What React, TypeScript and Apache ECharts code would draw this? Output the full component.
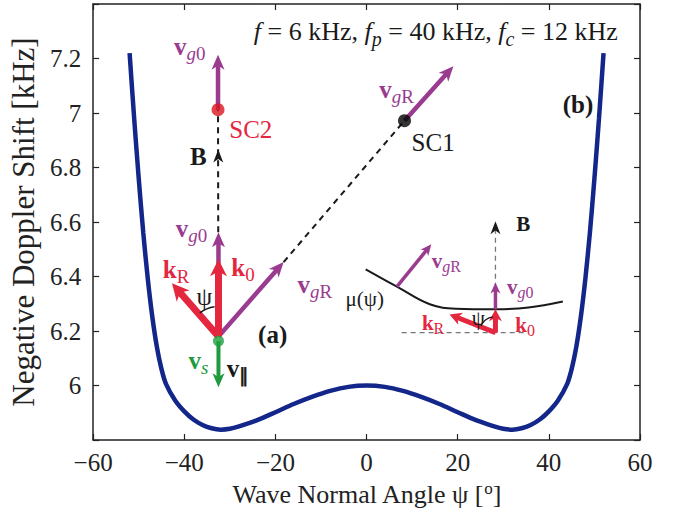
import React, { useEffect, useRef } from 'react';
import * as echarts from 'echarts';

const FAM = "'Liberation Serif', 'Times New Roman', serif";

// Doppler-shift curve (wave normal angle in degrees, negative Doppler shift in kHz)
const psiDeg = [-52, -51, -50, -49, -48, -47, -46, -45, -44, -42, -40, -38, -36, -34, -32, -30, -28, -24, -20, -16, -12, -8, -4, 0,
  4, 8, 12, 16, 20, 24, 28, 30, 32, 34, 36, 38, 40, 42, 44, 45, 46, 47, 48, 49, 50, 51, 52];
const dopplerKHz = [7.22, 6.98, 6.76, 6.56, 6.39, 6.25, 6.14, 6.06, 6.005, 5.945, 5.905, 5.875, 5.855, 5.843, 5.838, 5.841, 5.85, 5.873, 5.902, 5.932, 5.958, 5.98, 5.995, 6.0,
  5.995, 5.98, 5.958, 5.932, 5.902, 5.873, 5.85, 5.841, 5.838, 5.843, 5.855, 5.875, 5.905, 5.945, 6.005, 6.06, 6.14, 6.25, 6.39, 6.56, 6.76, 6.98, 7.22];

// inset refractive-index surface mu(psi), drawn in data units
const muPsi = [-0.2, 6.66, 13.88, 19.63, 28.28, 35.5, 43.07];
const muVal = [6.426, 6.363, 6.298, 6.282, 6.28, 6.286, 6.308];

// axes
const xMin = -60, xMax = 60, xStep = 20;
const yMin = 5.8, yMax = 7.4, yStep = 0.2;

// arrows: [fromPsi, fromVal, toPsi, toVal]
const purpleArrowsMain = [[-32.5, 6.18, -32.5, 6.562], [-32.5, 6.18, -18.2, 6.453], [-32.6, 7.012, -32.6, 7.214], [8.32, 6.972, 19.05, 7.172]];
const redArrowsMain = [[-32.5, 6.18, -32.5, 6.463], [-32.5, 6.18, -42.7, 6.375]];
const greenArrows = [[-32.5, 6.163, -32.5, 5.994]];
const purpleArrowsInset = [[6.66, 6.363, 14.2, 6.518], [28.28, 6.28, 28.28, 6.378]];
const redArrowsInset = [[28.28, 6.194, 28.28, 6.28], [28.28, 6.194, 18.2, 6.261]];
const blackDashed = [[-18.2, 6.453, 8.32, 6.972], [-32.55, 6.562, -32.6, 7.012]];
const grayDashed = [[28.28, 6.194, 28.28, 6.59], [7.7, 6.194, 35.1, 6.194]];
const bFieldHeads = [[-32.55, 6.8, -32.55, 6.866], [28.28, 6.55, 28.28, 6.603]];
// angle marks: [basePsi, baseVal, aPsi, aVal, bPsi, bVal]
const angleMain = [[-32.5, 6.18, -42.7, 6.375, -32.5, 6.463]];
const angleInset = [[28.28, 6.194, 18.2, 6.261, 28.28, 6.28]];
// spacecraft / observer points
const sc2Point = [[-32.6, 7.012]];
const sc1Point = [[8.32, 6.972]];
const observerPoint = [[-32.5, 6.163]];

// text labels (centre in data units) and their texts
const labelAt = [
  [-38.8, 7.243], [-25.4, 6.939], [-36.9, 6.84], [-38.4, 6.577], [-41.8, 6.426], [-27.1, 6.434],
  [-35.6, 6.327], [-11.35, 6.371], [-20.6, 6.188], [-36.9, 6.09], [-28.2, 6.064], [6.6, 7.086],
  [14.6, 6.89], [46.4, 7.03], [15.2, 7.298], [17.5, 6.457], [-0.4, 6.316], [34.4, 6.591],
  [33.7, 6.363], [34.8, 6.221], [14.6, 6.229], [24.5, 6.249],
];
const labelText = [
  '{pb|v}{psi|g}{ps|0}', '{rn|SC2}', '{kb|B}', '{pb|v}{psi|g}{ps|0}', '{rb|k}{rs|R}', '{rb|k}{rs|0}',
  '{kn|ψ}', '{pb|v}{psi|g}{ps|R}', '{kb|(a)}', '{gb|v}{gsi|s}', '{kb|v}{ksb|∥}', '{pb|v}{psi|g}{ps|R}',
  '{kn|SC1}', '{kb|(b)}', '{kit|f}{knt| = 6 kHz, }{kit|f}{ksit|p}{knt| = 40 kHz, }{kit|f}{ksit|c}{knt| = 12 kHz}',
  '{pb2|v}{psi2|g}{ps2|R}', '{kn2|μ(ψ)}', '{kb2|B}', '{pb2|v}{psi2|g}{ps2|0}', '{rb2|k}{rs2|0}', '{rb2|k}{rs2|R}', '{kn2|ψ}',
];

const COLORS: Record<string, string> = { p: '#9a3b90', r: '#e4263e', g: '#1f9a3c', k: '#1a1a1a' };

function buildRich() {
  const rich: Record<string, any> = {};
  const sizes: [string, number][] = [['', 25], ['2', 21], ['t', 26]];
  for (const key of Object.keys(COLORS)) {
    const color = COLORS[key];
    for (const [suf, size] of sizes) {
      const sub = Math.round(size * 0.76);
      const lh = Math.round(size * 1.3);
      rich[key + 'b' + suf] = { font: `bold ${size}px ${FAM}`, fill: color, lineHeight: lh };
      rich[key + 'n' + suf] = { font: `${size}px ${FAM}`, fill: color, lineHeight: lh };
      rich[key + 'i' + suf] = { font: `italic ${size}px ${FAM}`, fill: color, lineHeight: lh };
      rich[key + 's' + suf] = { font: `${sub}px ${FAM}`, fill: color, verticalAlign: 'bottom' };
      rich[key + 'si' + suf] = { font: `italic ${sub}px ${FAM}`, fill: color, verticalAlign: 'bottom' };
      rich[key + 'sb' + suf] = { font: `bold ${sub}px ${FAM}`, fill: color, verticalAlign: 'bottom' };
    }
  }
  return rich;
}
const RICH = buildRich();

function arrowRender(color: string, shaftW: number, headL: number, headW: number, showShaft = true) {
  return (_params: any, api: any) => {
    const a = api.coord([api.value(0), api.value(1)]);
    const b = api.coord([api.value(2), api.value(3)]);
    const dx = b[0] - a[0], dy = b[1] - a[1];
    const len = Math.hypot(dx, dy) || 1;
    const ux = dx / len, uy = dy / len, nx = -uy, ny = ux;
    const bx = b[0] - ux * headL, by = b[1] - uy * headL;
    const notch = [b[0] - ux * headL * 0.72, b[1] - uy * headL * 0.72];
    const children: any[] = [];
    if (showShaft) {
      children.push({
        type: 'line',
        shape: { x1: a[0], y1: a[1], x2: notch[0] + ux, y2: notch[1] + uy },
        style: { stroke: color, lineWidth: shaftW, lineCap: 'butt' },
      });
    }
    children.push({
      type: 'polygon',
      shape: { points: [[b[0], b[1]], [bx + nx * headW, by + ny * headW], notch, [bx - nx * headW, by - ny * headW]] },
      style: { fill: color },
    });
    return { type: 'group', children };
  };
}

function dashedRender(color: string, width: number, dash: number[]) {
  return (_params: any, api: any) => {
    const a = api.coord([api.value(0), api.value(1)]);
    const b = api.coord([api.value(2), api.value(3)]);
    return {
      type: 'line',
      shape: { x1: a[0], y1: a[1], x2: b[0], y2: b[1] },
      style: { stroke: color, lineWidth: width, lineDash: dash },
    };
  };
}

function angleRender(r: number, trim: number, width: number) {
  return (_params: any, api: any) => {
    const c = api.coord([api.value(0), api.value(1)]);
    const p = api.coord([api.value(2), api.value(3)]);
    const q = api.coord([api.value(4), api.value(5)]);
    const a1 = Math.atan2(p[1] - c[1], p[0] - c[0]);
    const a2 = Math.atan2(q[1] - c[1], q[0] - c[0]);
    return {
      type: 'arc',
      shape: { cx: c[0], cy: c[1], r, startAngle: a1 + 0.05, endAngle: a2 - trim, clockwise: true },
      style: { stroke: '#1a1a1a', lineWidth: width, fill: null },
    };
  };
}

function labelRender(_params: any, api: any) {
  const idx = _params.dataIndex;
  const p = api.coord([api.value(0), api.value(1)]);
  return {
    type: 'text',
    x: p[0],
    y: p[1],
    style: { text: labelText[idx], rich: RICH, align: 'center', verticalAlign: 'middle' },
  };
}

const fmtMinus = (v: number) => String(v).replace('-', '\u2212');

export default function App() {
  const ref = useRef<HTMLDivElement>(null);
  useEffect(() => {
    document.body.style.margin = '0';
    const chart = echarts.init(ref.current!, null, { renderer: 'svg' });
    const axisCommon = {
      type: 'value' as const,
      axisLine: { show: true, onZero: false, lineStyle: { color: '#222', width: 1.5 } },
      axisTick: { show: true, inside: true, length: 6, lineStyle: { color: '#222', width: 1.2 } },
      splitLine: { show: false },
    };
    const tickFont = { fontFamily: FAM, fontSize: 25, color: '#222' };
    chart.setOption({
      animation: false,
      backgroundColor: '#fff',
      grid: { left: 85, right: 34, top: 4, bottom: 72, containLabel: false },
      xAxis: [
        {
          ...axisCommon, min: xMin, max: xMax, interval: xStep, position: 'bottom',
          axisLabel: { ...tickFont, margin: 10, formatter: (v: number) => fmtMinus(v) },
          name: 'Wave Normal Angle ψ [{sup|o}]', nameLocation: 'middle', nameGap: 40,
          nameTextStyle: { fontFamily: FAM, fontSize: 26, color: '#222', lineHeight: 28, rich: { sup: { fontFamily: FAM, fontSize: 17, color: '#222', verticalAlign: 'top' } } },
        },
        { ...axisCommon, min: xMin, max: xMax, interval: xStep, position: 'top', axisLabel: { show: false } },
      ],
      yAxis: [
        {
          ...axisCommon, min: yMin, max: yMax, interval: yStep, position: 'left',
          axisLabel: { ...tickFont, margin: 12, formatter: (v: number) => (v < yMin + 0.1 || v > yMax - 0.1 ? '' : String(+v.toFixed(1))) },
          name: 'Negative Doppler Shift [kHz]', nameLocation: 'middle', nameGap: 45, nameRotate: 90,
          nameTextStyle: { fontFamily: FAM, fontSize: 31, color: '#222' },
        },
        { ...axisCommon, min: yMin, max: yMax, interval: yStep, position: 'right', axisLabel: { show: false } },
      ],
      series: [
        {
          type: 'line', data: psiDeg.map((p, i) => [p, dopplerKHz[i]]), showSymbol: false, smooth: 0.3,
          lineStyle: { color: '#13268a', width: 4.5 }, z: 2,
        },
        {
          type: 'line', data: muPsi.map((p, i) => [p, muVal[i]]), showSymbol: false, smooth: 0.4,
          lineStyle: { color: '#1a1a1a', width: 2 }, z: 3,
        },
        { type: 'custom', data: blackDashed, renderItem: dashedRender('#1a1a1a', 2, [6, 5]), z: 4 },
        { type: 'custom', data: grayDashed, renderItem: dashedRender('#777', 1.3, [5, 4]), z: 4 },
        { type: 'custom', data: bFieldHeads, renderItem: arrowRender('#1a1a1a', 0, 13, 5, false), z: 5 },
        { type: 'custom', data: purpleArrowsMain, renderItem: arrowRender(COLORS.p, 4.5, 15, 6.5), z: 6 },
        { type: 'custom', data: redArrowsMain, renderItem: arrowRender(COLORS.r, 7, 17, 8.5), z: 7 },
        { type: 'custom', data: greenArrows, renderItem: arrowRender(COLORS.g, 4, 14, 6), z: 7 },
        { type: 'custom', data: purpleArrowsInset, renderItem: arrowRender(COLORS.p, 3.5, 11, 5), z: 6 },
        { type: 'custom', data: redArrowsInset, renderItem: arrowRender(COLORS.r, 5, 12, 6.5), z: 7 },
        { type: 'custom', data: angleMain, renderItem: angleRender(30, 0.13, 1.5), z: 8 },
        { type: 'custom', data: angleInset, renderItem: angleRender(16, 0.15, 1.3), z: 8 },
        { type: 'scatter', data: sc2Point, symbolSize: 13, itemStyle: { color: '#d9151e' }, z: 9 },
        { type: 'scatter', data: sc1Point, symbolSize: 13, itemStyle: { color: '#000' }, z: 9 },
        { type: 'scatter', data: observerPoint, symbolSize: 11, itemStyle: { color: '#1fa040' }, z: 9 },
        { type: 'custom', data: labelAt, renderItem: labelRender, z: 10 },
      ],
    });
    return () => chart.dispose();
  }, []);
  return <div ref={ref} style={{ width: 674, height: 513 }} />;
}
